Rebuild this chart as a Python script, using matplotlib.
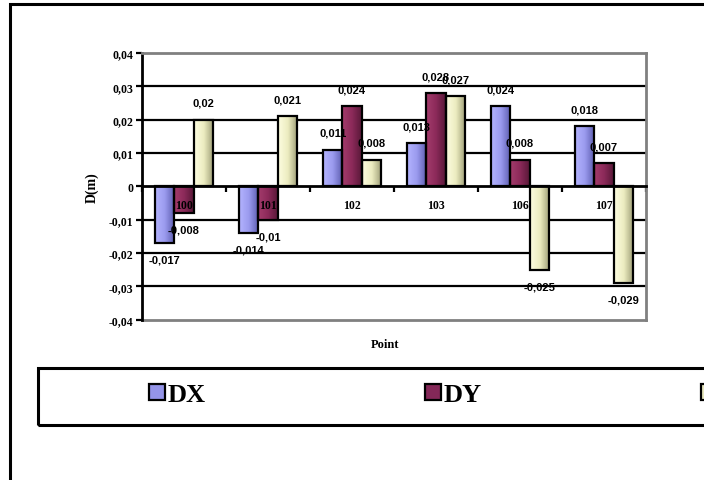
import numpy as np
import matplotlib.pyplot as plt
from matplotlib.colors import LinearSegmentedColormap
from matplotlib.patches import Patch, Rectangle

points = ['100', '101', '102', '103', '106', '107']
dx = [-0.017, -0.014, 0.011, 0.013, 0.024, 0.018]
dy = [-0.008, -0.01, 0.024, 0.028, 0.008, 0.007]
dz = [0.02, 0.021, 0.008, 0.027, -0.025, -0.029]
series_names = ['DX', 'DY', 'DZ']
yticks = [-0.04, -0.03, -0.02, -0.01, 0, 0.01, 0.02, 0.03, 0.04]

# horizontal shading for each series, light on the left, dark on the right
shades = [
    ['#b4b4ff', '#9a9aee', '#5c5cae'],
    ['#a43c6c', '#8c2a5a', '#581838'],
    ['#fdfde0', '#ececc0', '#9c9c74'],
]
legend_faces = ['#9494e8', '#842858', '#e6e6bc']

serif = dict(family='Liberation Serif', weight='bold')
sans = dict(family='Liberation Sans', weight='bold')


def fmt(v):
    return f"{v:g}".replace('.', ',')


fig = plt.figure(figsize=(7.04, 4.81), dpi=100)
ax = fig.add_axes([142 / 704, 1 - 320.5 / 481, 504 / 704, 266.5 / 481])

width = 0.228
x = np.arange(len(points))
grad = np.linspace(0, 1, 64).reshape(1, -1)

for k, vals in enumerate([dx, dy, dz]):
    cmap = LinearSegmentedColormap.from_list(series_names[k], shades[k])
    xs = x + (k - 1) * width
    for xi, v in zip(xs, vals):
        ax.imshow(grad, cmap=cmap, aspect='auto', zorder=1,
                  extent=(xi - width / 2, xi + width / 2, min(0, v), max(0, v)))
        off = 12 if v > 0 else -12
        ax.annotate(fmt(v), (xi, v), xytext=(0, off), textcoords='offset points',
                    ha='center', va='center', fontsize=8, zorder=4, **sans)
    ax.bar(xs, vals, width, fill=False, edgecolor='black', linewidth=1.6, zorder=2)

# horizontal gridlines behind the bars
for y in yticks[1:-1]:
    if y != 0:
        ax.axhline(y, color='black', lw=1.6, zorder=0.5)
ax.axhline(-0.04, color='#808080', lw=2, clip_on=False, zorder=0.5)

ax.set_xlim(-0.5, len(points) - 0.5)
ax.set_ylim(-0.04, 0.04)
ax.set_yticks(yticks)
ax.set_yticklabels([fmt(v) for v in yticks], fontsize=8.5, **serif)
ax.tick_params(axis='y', length=4, width=1.6, pad=2)

ax.spines['bottom'].set_position(('data', 0))
ax.spines['bottom'].set_linewidth(2)
ax.spines['left'].set_linewidth(2)
for s in ['top', 'right']:
    ax.spines[s].set_color('#808080')
    ax.spines[s].set_linewidth(2)

ax.set_xticks(x)
ax.set_xticklabels(points, fontsize=8.5, **serif)
ax.set_xticks(np.arange(len(points) + 1) - 0.5, minor=True)
ax.tick_params(axis='x', which='major', length=0, pad=9)
ax.tick_params(axis='x', which='minor', length=4, width=1.6)

ax.set_ylabel('D(m)', fontsize=10, **serif)
ax.yaxis.set_label_coords(-50 / 504, 0.5)
ax.yaxis.label.set_verticalalignment('center')
ax.set_xlabel('Point', fontsize=9, **serif)
ax.xaxis.set_label_coords((385 - 142) / 504, -25 / 266.5)
ax.xaxis.label.set_verticalalignment('center')

# chart border and legend box
fig.add_artist(Rectangle((10 / 704, -0.5), 2, 1.5 - 5 / 481, transform=fig.transFigure,
                         fill=False, edgecolor='black', lw=2.2))
fig.add_artist(Rectangle((38 / 704, 1 - 425.5 / 481), 1, 56.5 / 481, transform=fig.transFigure,
                         fill=False, edgecolor='black', lw=2.2))

handles = [Patch(facecolor=c, edgecolor='black', linewidth=1.6) for c in legend_faces]
fig.legend(handles, series_names, loc='center left',
           bbox_to_anchor=(149 / 704, 1 - 395.5 / 481), ncol=3, frameon=False,
           borderpad=0, borderaxespad=0, handlelength=0.6, handleheight=0.55,
           handletextpad=0.12, columnspacing=8.3,
           prop=dict(family='Liberation Serif', weight='bold', size=19))

fig.savefig('out.png', dpi=100)
